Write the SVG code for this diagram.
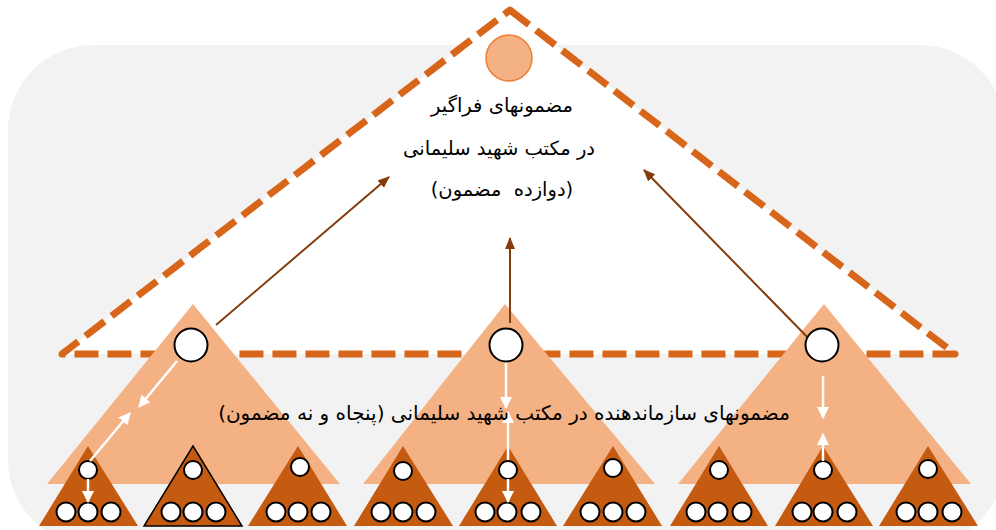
<svg xmlns="http://www.w3.org/2000/svg" width="996" height="530" viewBox="0 0 996 530">
<defs>
<style>
.bg{fill:#F2F2F2}
.dash{fill:#FFFFFF;stroke:#D8661A;stroke-width:7;stroke-dasharray:24 9;stroke-linejoin:round}
.lt{fill:#F4B183}
.dk{fill:#C55A11}
.dko{fill:#C55A11;stroke:#000;stroke-width:1.5}
.bc{fill:#FFF;stroke:#000;stroke-width:2}
.sc{fill:#FFF;stroke:#000;stroke-width:2}
.br{stroke:#843C0C;stroke-width:2;fill:none;marker-end:url(#ab)}
.wh{stroke:#FFF;stroke-width:2.5;fill:none;marker-end:url(#aw)}
.t{font-family:"DejaVu Sans","Noto Sans",sans-serif;font-size:19.5px;fill:#000;text-anchor:middle;direction:rtl;white-space:pre}
</style>
<marker id="ab" markerUnits="userSpaceOnUse" markerWidth="12" markerHeight="10" refX="11" refY="5" orient="auto">
<path d="M0,0 L12,5 L0,10 z" fill="#843C0C"/>
</marker>
<marker id="aw" markerUnits="userSpaceOnUse" markerWidth="12" markerHeight="12" refX="11" refY="6" orient="auto">
<path d="M0,0 L12,6 L0,12 z" fill="#FFF"/>
</marker>
</defs>
<rect class="bg" x="8" y="45" width="997" height="500" rx="85" ry="85"/>
<g id="top-frame">
<polygon class="dash" points="510,10 955,354 62,354"/>
</g>
<g id="tree-left">
<polygon class="lt" points="193,304 340,484 47,484"/>
</g>
<g id="tree-middle">
<polygon class="lt" points="505,304 655,484 363,484"/>
</g>
<g id="tree-right">
<polygon class="lt" points="824,304 971,484 678,484"/>
</g>
<g id="sub1"><polygon class="dk" points="88,446 138,526 39,526"/><circle class="sc" cx="88" cy="470" r="9"/><circle class="sc" cx="66" cy="512" r="9.5"/><circle class="sc" cx="88" cy="512" r="9.5"/><circle class="sc" cx="111" cy="512" r="9.5"/></g>
<g id="sub2"><polygon class="dko" points="193,446 242,526 144,526"/><circle class="sc" cx="193" cy="470" r="9"/><circle class="sc" cx="171" cy="512" r="9.5"/><circle class="sc" cx="193" cy="512" r="9.5"/><circle class="sc" cx="216" cy="512" r="9.5"/></g>
<g id="sub3"><polygon class="dk" points="298,446 347,526 248,526"/><circle class="sc" cx="300" cy="467" r="9"/><circle class="sc" cx="276" cy="512" r="9.5"/><circle class="sc" cx="298" cy="512" r="9.5"/><circle class="sc" cx="321" cy="512" r="9.5"/></g>
<g id="sub4"><polygon class="dk" points="403,446 453,526 354,526"/><circle class="sc" cx="403" cy="471" r="9"/><circle class="sc" cx="381" cy="512" r="9.5"/><circle class="sc" cx="403" cy="512" r="9.5"/><circle class="sc" cx="426" cy="512" r="9.5"/></g>
<g id="sub5"><polygon class="dk" points="508,446 557,526 459,526"/><circle class="sc" cx="508" cy="470" r="9"/><circle class="sc" cx="485" cy="512" r="9.5"/><circle class="sc" cx="507" cy="512" r="9.5"/><circle class="sc" cx="531" cy="512" r="9.5"/></g>
<g id="sub6"><polygon class="dk" points="613,446 662,526 563,526"/><circle class="sc" cx="613" cy="468" r="9"/><circle class="sc" cx="590" cy="512" r="9.5"/><circle class="sc" cx="613" cy="512" r="9.5"/><circle class="sc" cx="636" cy="512" r="9.5"/></g>
<g id="sub7"><polygon class="dk" points="719,446 768,526 670,526"/><circle class="sc" cx="719" cy="470" r="9"/><circle class="sc" cx="696" cy="512" r="9.5"/><circle class="sc" cx="718" cy="512" r="9.5"/><circle class="sc" cx="742" cy="512" r="9.5"/></g>
<g id="sub8"><polygon class="dk" points="823,446 873,526 775,526"/><circle class="sc" cx="823" cy="470" r="9"/><circle class="sc" cx="802" cy="512" r="9.5"/><circle class="sc" cx="823" cy="512" r="9.5"/><circle class="sc" cx="847" cy="512" r="9.5"/></g>
<g id="sub9"><polygon class="dk" points="928,446 978,526 879,526"/><circle class="sc" cx="928" cy="469" r="9"/><circle class="sc" cx="906" cy="512" r="9.5"/><circle class="sc" cx="928" cy="512" r="9.5"/><circle class="sc" cx="952" cy="512" r="9.5"/></g>
<g id="connectors">
<line class="br" x1="216" y1="325" x2="389" y2="177"/>
<line class="br" x1="510" y1="323" x2="510" y2="238"/>
<line class="br" x1="815" y1="345" x2="644" y2="170"/>
<line class="wh" x1="177" y1="361" x2="139" y2="407"/>
<line class="wh" x1="90" y1="461" x2="130" y2="413"/>
<line class="wh" x1="88" y1="479" x2="88" y2="502"/>
<line class="wh" x1="506" y1="362" x2="506" y2="408"/>
<line class="wh" x1="508" y1="460" x2="508" y2="412"/>
<line class="wh" x1="508" y1="479" x2="508" y2="502"/>
<line class="wh" x1="823" y1="376" x2="823" y2="418"/>
<line class="wh" x1="823" y1="461" x2="823" y2="434"/>
</g>
<g id="node-top">
<circle cx="509" cy="58" r="23" fill="#F4B183" stroke="#ED7D31" stroke-width="1.5"/>
<text class="t" x="502" y="112">مضمونهای فراگیر</text>
<text class="t" x="499" y="155">در مکتب شهید سلیمانی</text>
<text class="t" x="502" y="196" xml:space="preserve">(دوازده  مضمون)</text>
</g>
<g id="node-left-root"><circle class="bc" cx="191" cy="345" r="16.5"/></g>
<g id="node-mid-root"><circle class="bc" cx="506" cy="345" r="16.5"/></g>
<g id="node-right-root"><circle class="bc" cx="822" cy="345" r="16.5"/></g>
<g id="label-middle">
<text class="t" x="504" y="420" style="font-size:20px">مضمونهای سازماندهنده در مکتب شهید سلیمانی (پنجاه و نه مضمون)</text>
</g>
</svg>
